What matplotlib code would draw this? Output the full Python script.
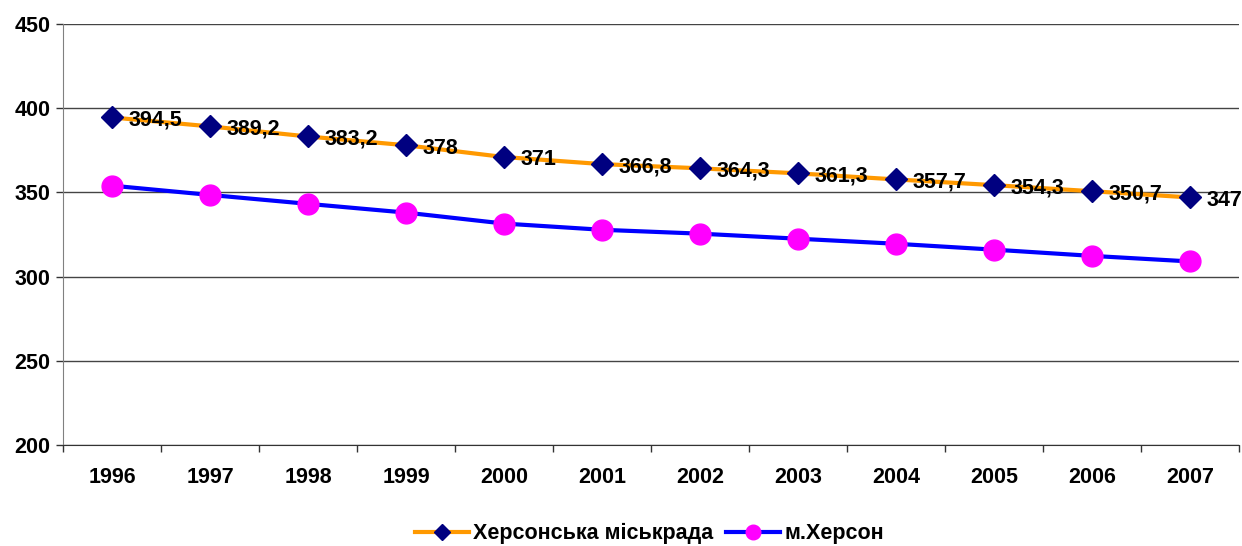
import numpy as np
import matplotlib.pyplot as plt

plt.rcParams['font.family'] = ['Liberation Sans', 'DejaVu Sans']
plt.rcParams['font.weight'] = 'bold'

# роки та значення
years = ['1996', '1997', '1998', '1999', '2000', '2001',
         '2002', '2003', '2004', '2005', '2006', '2007']
miskrada = [394.5, 389.2, 383.2, 378, 371, 366.8,
            364.3, 361.3, 357.7, 354.3, 350.7, 347]
kherson = [354, 348.5, 343.2, 338, 331.5, 327.8,
           325.5, 322.5, 319.5, 316, 312.3, 309]
labels = ['394,5', '389,2', '383,2', '378', '371', '366,8',
          '364,3', '361,3', '357,7', '354,3', '350,7', '347']

x = np.arange(len(years))
fs = 15.5

fig = plt.figure(figsize=(12.42, 5.46), dpi=100)
ax = fig.add_axes([63 / 1242, 1 - 445 / 546, 1176 / 1242, 421 / 546])

ax.plot(x, miskrada, color='#FF9900', lw=3, marker='D', ms=11,
        mfc='#000080', mec='#000080', label='Херсонська міськрада', zorder=3)
ax.plot(x, kherson, color='#0000FF', lw=3, marker='o', ms=15,
        mfc='#FF00FF', mec='#FF00FF', label='м.Херсон', zorder=3)

for xi, v, t in zip(x, miskrada, labels):
    ax.annotate(t, (xi, v), xytext=(12, -2), textcoords='offset points',
                ha='left', va='center', fontsize=fs, fontweight='bold')

ax.set_xlim(-0.5, len(years) - 0.5)
ax.set_ylim(200, 450)
ax.set_yticks(np.arange(200, 451, 50))
ax.set_xticks(x)
ax.set_xticklabels(years)
ax.set_xticks(np.arange(-0.5, len(years), 1), minor=True)
ax.tick_params(axis='x', which='major', length=0, pad=16, labelsize=fs)
ax.tick_params(axis='x', which='minor', length=5, width=1, color='#333333')
ax.tick_params(axis='y', length=5, width=1, color='#333333', labelsize=fs, pad=4)

ax.grid(axis='y', color='#444444', lw=1)
ax.set_axisbelow(True)
for s in ['top', 'right']:
    ax.spines[s].set_visible(False)
ax.spines['left'].set_color('#808080')
ax.spines['bottom'].set_color('#333333')

fig.legend(loc='lower center', bbox_to_anchor=(0.523, -0.032), ncol=2,
           frameon=False, handlelength=2.5, handletextpad=0.2,
           columnspacing=0.6, markerscale=0.7,
           prop={'weight': 'bold', 'size': fs})

fig.savefig('out.png', dpi=100)
